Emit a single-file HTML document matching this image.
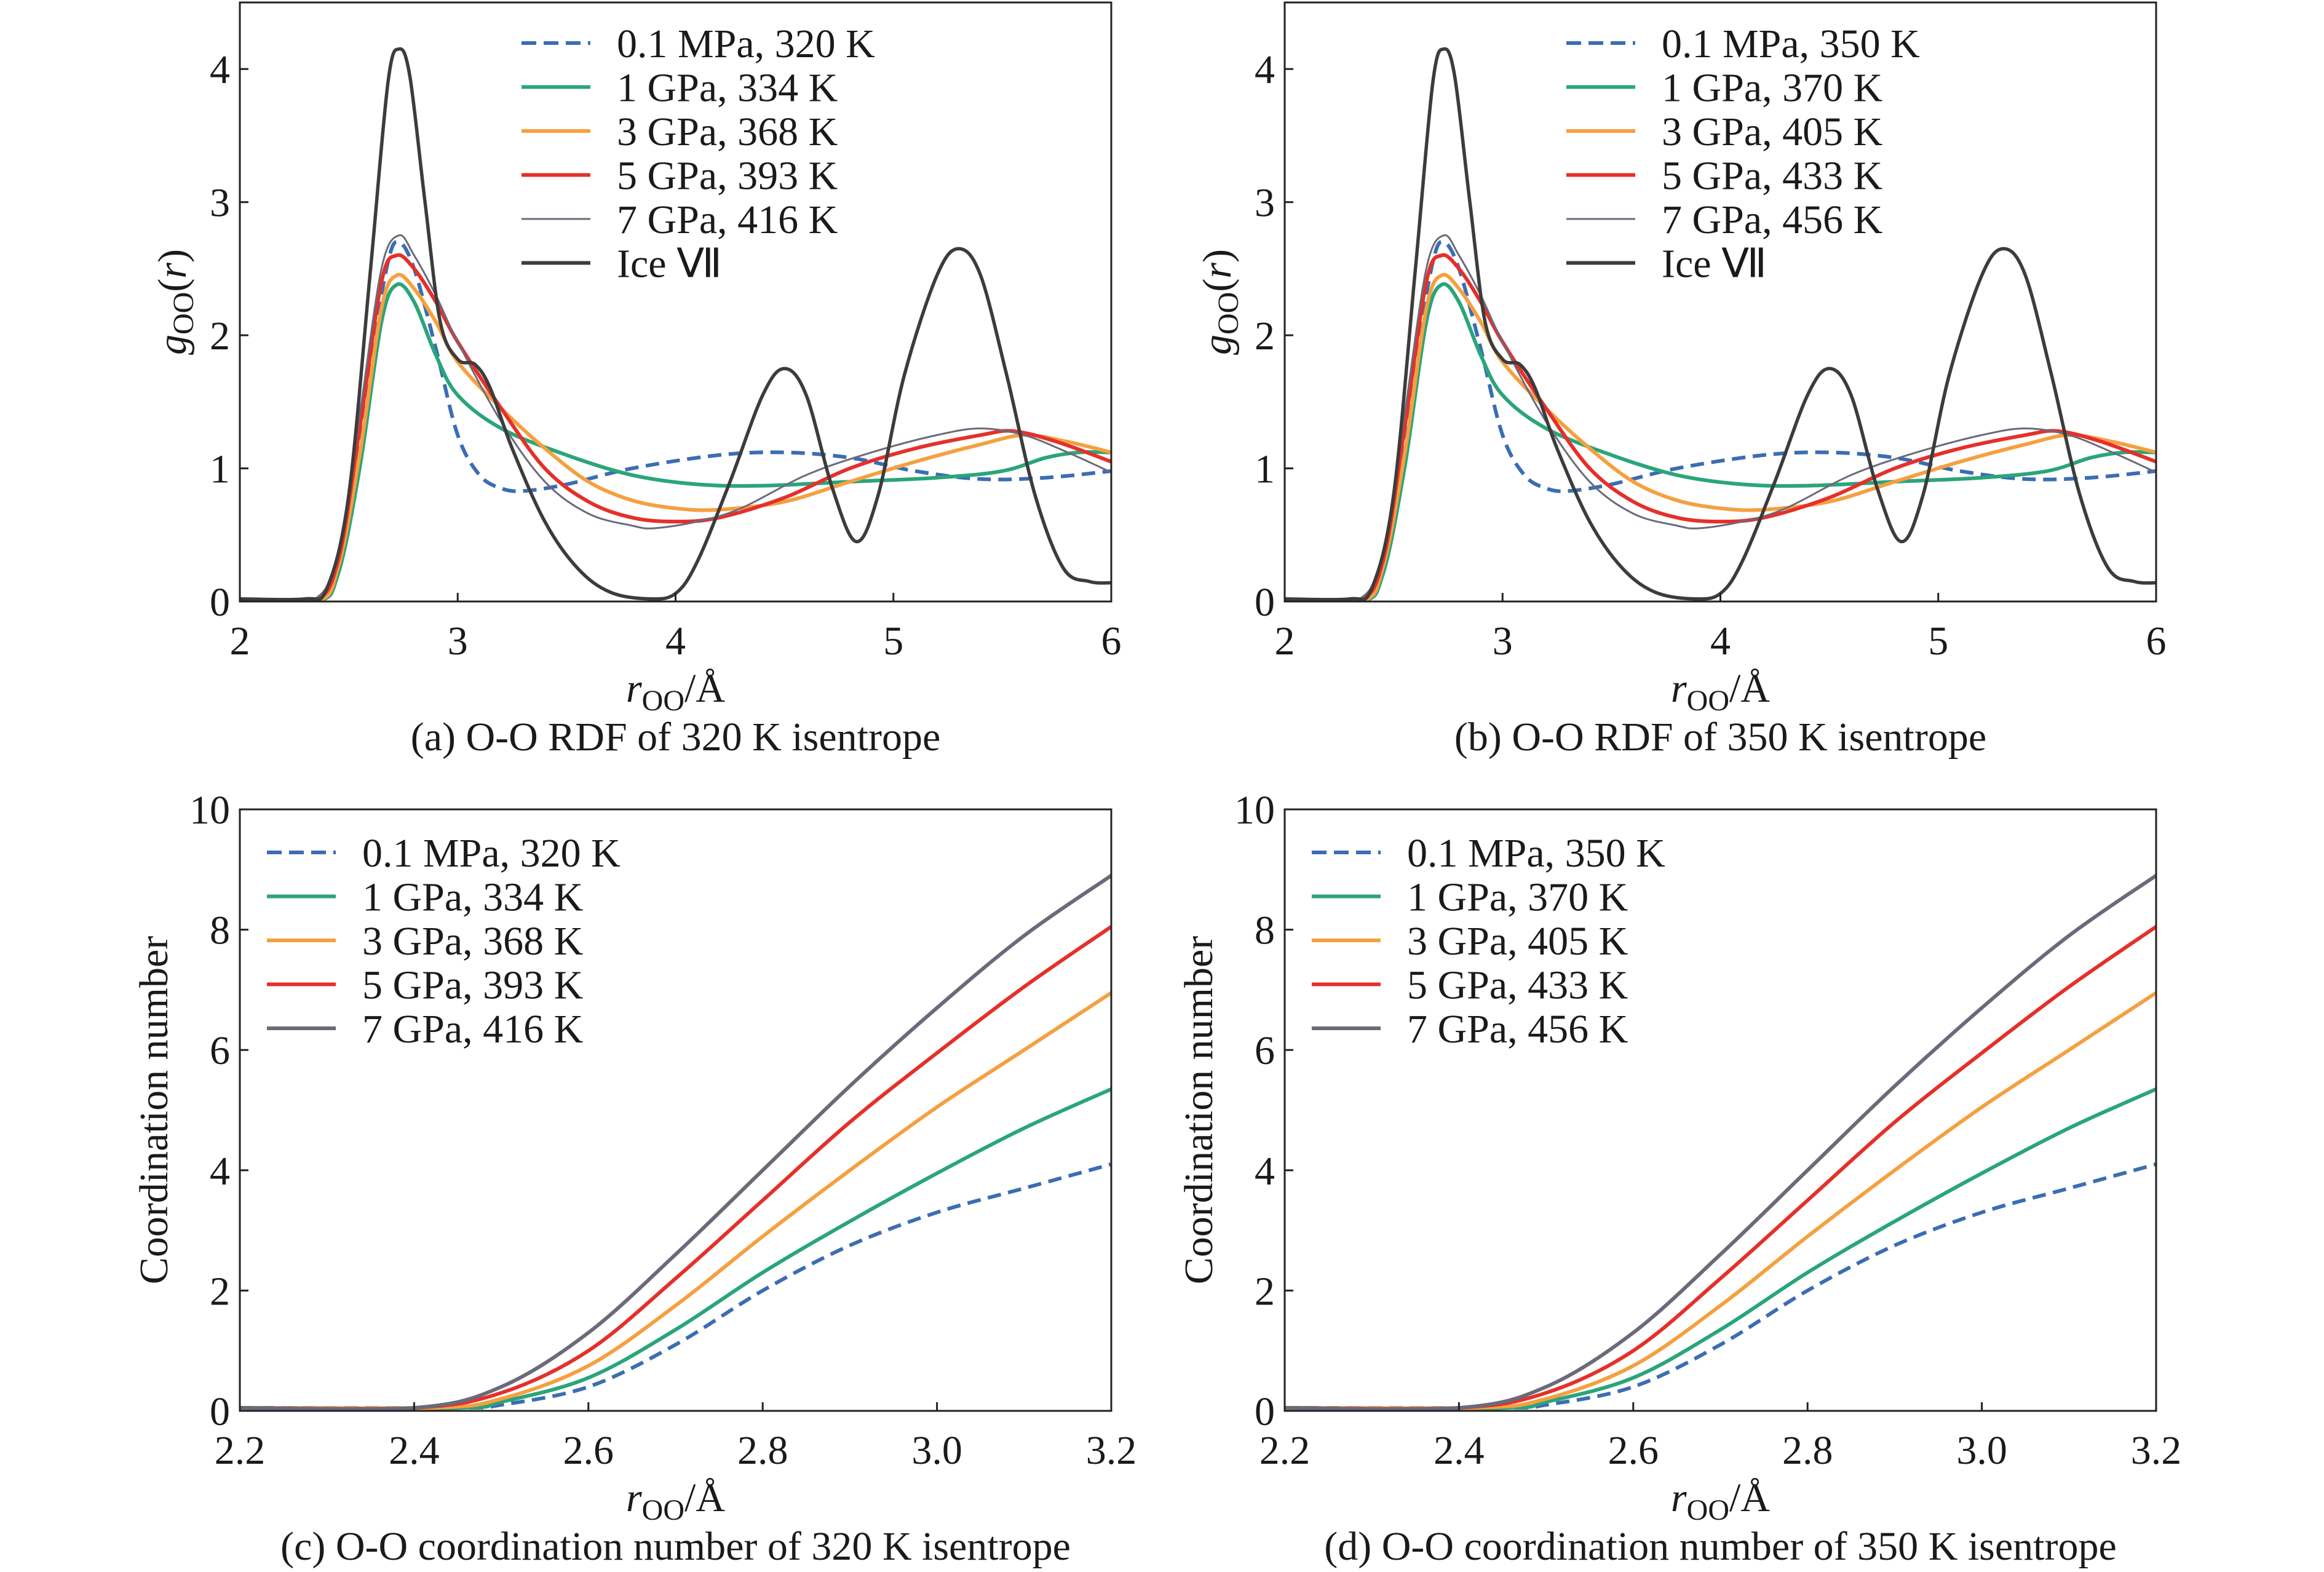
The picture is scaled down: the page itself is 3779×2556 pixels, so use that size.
<!DOCTYPE html>
<html><head><meta charset="utf-8"><style>
html,body{margin:0;padding:0;background:#fff;}
svg{display:block;}
text{font-family:"Liberation Serif",serif;fill:#1a1a1a;}
</style></head><body>
<svg id="s" width="3779" height="2556" viewBox="0 0 3779 2556" xmlns="http://www.w3.org/2000/svg"></svg>
<script>
const S=document.getElementById('s');let out='';
const FS=66,SF=48;
function cr(pts){let d='M'+pts[0][0].toFixed(1)+','+pts[0][1].toFixed(1);
for(let i=0;i<pts.length-1;i++){const p0=pts[Math.max(i-1,0)],p1=pts[i],p2=pts[i+1],p3=pts[Math.min(i+2,pts.length-1)];
const c1=[p1[0]+(p2[0]-p0[0])/6,p1[1]+(p2[1]-p0[1])/6],c2=[p2[0]-(p3[0]-p1[0])/6,p2[1]-(p3[1]-p1[1])/6];
d+=' C'+c1.map(v=>v.toFixed(1))+' '+c2.map(v=>v.toFixed(1))+' '+p2.map(v=>v.toFixed(1));}return d;}
const C={blue:'#3b6db3',green:'#2aa57a',orange:'#f5a040',red:'#e5302a',gray:'#6a6a7a',ice:'#3c3c3c'};
const rdf={
ice:[[2,0.02],[2.3,0.02],[2.4,0.1],[2.5,0.8],[2.6,2.5],[2.68,3.9],[2.73,4.15],[2.78,3.95],[2.85,3.0],[2.92,2.1],[3.0,1.82],[3.08,1.78],[3.15,1.6],[3.25,1.15],[3.4,0.6],[3.55,0.25],[3.7,0.07],[3.88,0.02],[4.0,0.06],[4.1,0.3],[4.25,0.9],[4.4,1.55],[4.5,1.75],[4.6,1.55],[4.72,0.85],[4.83,0.45],[4.93,0.8],[5.05,1.7],[5.2,2.45],[5.3,2.65],[5.4,2.45],[5.52,1.7],[5.65,0.8],[5.78,0.25],[5.9,0.15],[6,0.14]],
blue:[[2,0],[2.3,0],[2.4,0.05],[2.5,0.6],[2.6,1.8],[2.68,2.55],[2.73,2.7],[2.8,2.5],[2.9,1.9],[3.0,1.25],[3.1,0.95],[3.2,0.85],[3.3,0.83],[3.5,0.88],[3.8,1.0],[4.2,1.1],[4.5,1.12],[4.8,1.08],[5.1,0.98],[5.4,0.92],[5.7,0.93],[6,0.98]],
green:[[2,0],[2.35,0],[2.45,0.2],[2.55,1.0],[2.65,2.1],[2.72,2.38],[2.8,2.25],[2.9,1.85],[3.0,1.55],[3.2,1.3],[3.5,1.1],[3.8,0.95],[4.1,0.88],[4.4,0.87],[4.8,0.9],[5.2,0.93],[5.5,0.98],[5.7,1.08],[5.85,1.12],[6,1.12]],
orange:[[2,0],[2.35,0],[2.45,0.25],[2.55,1.1],[2.65,2.2],[2.72,2.45],[2.8,2.35],[2.9,2.1],[3.0,1.8],[3.2,1.45],[3.4,1.15],[3.6,0.9],[3.8,0.76],[4.0,0.7],[4.2,0.69],[4.5,0.75],[4.8,0.9],[5.1,1.05],[5.4,1.18],[5.6,1.25],[5.8,1.2],[6,1.12]],
red:[[2,0],[2.33,0],[2.45,0.3],[2.55,1.3],[2.65,2.4],[2.72,2.6],[2.8,2.5],[2.9,2.25],[3.0,1.95],[3.2,1.45],[3.4,1.0],[3.6,0.75],[3.8,0.63],[4.0,0.6],[4.2,0.63],[4.5,0.78],[4.8,1.0],[5.1,1.15],[5.4,1.25],[5.55,1.28],[5.75,1.2],[6,1.05]],
gray:[[2,0],[2.32,0],[2.45,0.35],[2.55,1.4],[2.65,2.5],[2.73,2.75],[2.8,2.6],[2.9,2.3],[3.0,1.95],[3.2,1.35],[3.4,0.9],[3.6,0.66],[3.8,0.57],[3.9,0.55],[4.1,0.6],[4.3,0.7],[4.6,0.95],[4.9,1.12],[5.2,1.25],[5.4,1.3],[5.6,1.25],[5.8,1.12],[6,0.97]]};
const cn={
blue:[[2.2,0.05],[2.45,0.05],[2.5,0.1],[2.6,0.4],[2.7,1.1],[2.8,2.0],[2.9,2.75],[3.0,3.3],[3.1,3.7],[3.2,4.1]],
green:[[2.2,0.05],[2.45,0.05],[2.5,0.15],[2.6,0.55],[2.7,1.35],[2.8,2.3],[2.9,3.15],[3.0,3.95],[3.1,4.7],[3.2,5.35]],
orange:[[2.2,0.05],[2.42,0.05],[2.5,0.2],[2.6,0.75],[2.7,1.75],[2.8,2.9],[2.9,4.0],[3.0,5.05],[3.1,6.0],[3.2,6.95]],
red:[[2.2,0.05],[2.4,0.05],[2.5,0.3],[2.6,1.0],[2.7,2.2],[2.8,3.5],[2.9,4.8],[3.0,5.95],[3.1,7.05],[3.2,8.05]],
gray:[[2.2,0.05],[2.4,0.05],[2.5,0.4],[2.6,1.3],[2.7,2.6],[2.8,4.0],[2.9,5.4],[3.0,6.7],[3.1,7.9],[3.2,8.9]]};
function panel(o){
const {L,R,T,B,x0,x1,y0,y1,data,order,xt,yt,xfmt,ylab,ylx,leg,cap,legx,legy,ice}=o;
const X=v=>L+(v-x0)/(x1-x0)*(R-L),Y=v=>B-(v-y0)/(y1-y0)*(B-T);
out+=`<defs><clipPath id="c${L}${T}"><rect x="${L}" y="${T}" width="${R-L}" height="${B-T}"/></clipPath></defs>`;
out+=`<g clip-path="url(#c${L}${T})">`;
order.forEach(k=>{const p=data[k].map(q=>[X(q[0]),Y(q[1])]);
let w=k=='gray'?(ice?3:6):6,st=C[k];if(k=='ice')w=5.5;
out+=`<path d="${cr(p)}" fill="none" stroke="${st}" stroke-width="${w}" ${k=='blue'?'stroke-dasharray="22,12"':''}/>`;});
out+='</g>';
out+=`<rect x="${L}" y="${T}" width="${R-L}" height="${B-T}" fill="none" stroke="#222" stroke-width="3"/>`;
xt.forEach(v=>{const x=X(v);out+=`<line x1="${x}" y1="${B}" x2="${x}" y2="${B-14}" stroke="#222" stroke-width="3"/><text x="${x}" y="${B+86}" font-size="${FS}" text-anchor="middle">${xfmt(v)}</text>`;});
yt.forEach(v=>{const y=Y(v);out+=`<line x1="${L}" y1="${y}" x2="${L+14}" y2="${y}" stroke="#222" stroke-width="3"/><text x="${L-16}" y="${y+23}" font-size="${FS}" text-anchor="end">${v}</text>`;});
const cx=(L+R)/2;
out+=`<text x="${cx}" y="${B+163}" font-size="${FS}" text-anchor="middle"><tspan font-style="italic">r</tspan><tspan font-size="${SF}" dy="14">OO</tspan><tspan dy="-14">/Å</tspan></text>`;
out+=`<text x="${cx}" y="${B+242}" font-size="${FS}" text-anchor="middle">${cap}</text>`;
out+=`<g transform="translate(${ylx},${(T+B)/2}) rotate(-90)"><text x="0" y="0" font-size="${FS}" text-anchor="middle">${ylab}</text></g>`;
leg.forEach((l,i)=>{const y=legy+i*71.5;const k=l[0];let w=k=='gray'&&ice?3:6;
out+=`<line x1="${legx}" y1="${y}" x2="${legx+112}" y2="${y}" stroke="${C[k]}" stroke-width="${w}" ${k=='blue'?'stroke-dasharray="24,12"':''}/>`;
out+=`<text x="${legx+155}" y="${y+23}" font-size="${FS}">${l[1]}</text>`;});
}
const gl=`<tspan font-style="italic">g</tspan><tspan font-size="${SF}" dy="12">OO</tspan><tspan dy="-12">(</tspan><tspan font-style="italic">r</tspan>)`;
function rdfPanel(L,R,legx,lab,cap){panel({L,R,T:4,B:978,x0:2,x1:6,y0:0,y1:4.5,data:rdf,order:['blue','green','orange','red','gray','ice'],xt:[2,3,4,5,6],yt:[0,1,2,3,4],xfmt:v=>v,ylab:gl,ylx:L-88,ice:true,legx,legy:70,cap,
leg:[['blue',lab[0]],['green',lab[1]],['orange',lab[2]],['red',lab[3]],['gray',lab[4]],['ice','Ice Ⅶ']]});}
function cnPanel(L,R,legx,lab,cap){panel({L,R,T:1316,B:2294,x0:2.2,x1:3.2,y0:0,y1:10,data:cn,order:['blue','green','orange','red','gray'],xt:[2.2,2.4,2.6,2.8,3.0,3.2],yt:[0,2,4,6,8,10],xfmt:v=>v.toFixed(1),ylab:'Coordination number',ylx:L-118,ice:false,legx,legy:1386,cap,
leg:[['blue',lab[0]],['green',lab[1]],['orange',lab[2]],['red',lab[3]],['gray',lab[4]]]});}
const la=['0.1 MPa, 320 K','1 GPa, 334 K','3 GPa, 368 K','5 GPa, 393 K','7 GPa, 416 K'];
const lb=['0.1 MPa, 350 K','1 GPa, 370 K','3 GPa, 405 K','5 GPa, 433 K','7 GPa, 456 K'];
rdfPanel(390,1807,848,la,'(a) O-O RDF of 320 K isentrope');
rdfPanel(2089,3506,2547,lb,'(b) O-O RDF of 350 K isentrope');
cnPanel(390,1807,434,la,'(c) O-O coordination number of 320 K isentrope');
cnPanel(2089,3506,2133,lb,'(d) O-O coordination number of 350 K isentrope');
S.innerHTML=out;
</script>
</body></html>
